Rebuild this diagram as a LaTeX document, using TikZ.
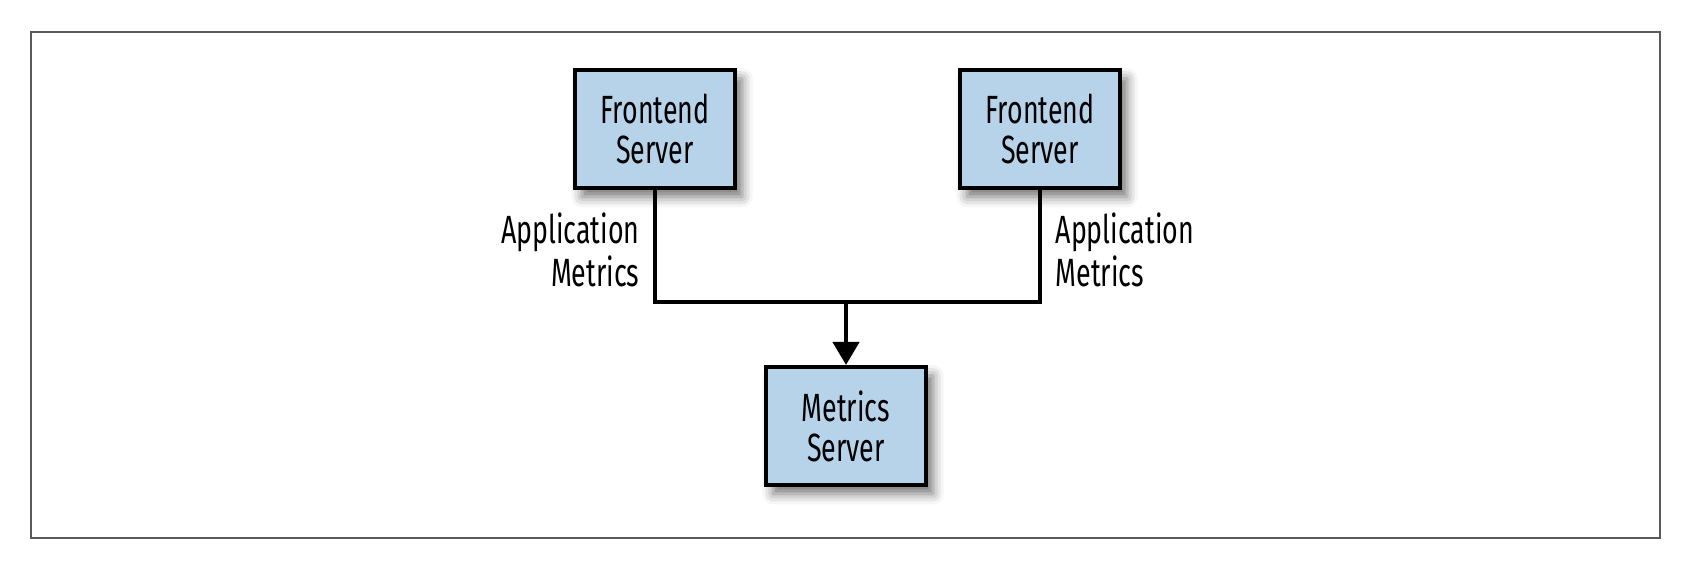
\documentclass[tikz,border=0pt]{standalone}
\usepackage{fontspec}
\setmainfont[FakeStretch=0.68]{Fira Sans}
\usepackage{xcolor}
\usepackage{tikz}
\usetikzlibrary{arrows.meta,positioning,shadows.blur,calc}
\definecolor{boxblue}{HTML}{B7D3EA}
\definecolor{framegray}{HTML}{5A5A5A}
\tikzset{
  server/.style={draw=black, line width=1.2pt, fill=boxblue, align=center, minimum width=1.6cm, minimum height=1.18cm, inner sep=2pt,
    font=\fontsize{11.2}{11.4}\selectfont,
    blur shadow={shadow xshift=2pt, shadow yshift=-2.5pt, shadow blur radius=3pt, shadow opacity=55}},
  link/.style={draw=black, line width=0.9pt},
  arrow/.style={-{Triangle[length=6.5pt, width=7.5pt]}, line width=0.9pt, draw=black},
  tag/.style={align=center, inner sep=4pt, yshift=-1pt, font=\fontsize{11.2}{11}\selectfont}
}

\begin{document}
\begin{tikzpicture}[x=0.01cm, y=-0.01cm]
  \draw[framegray, line width=0.45pt] (31,32) rectangle (1660,538);
  \useasboundingbox (0,0) rectangle (1692,562);

  \node[server] (front1) at (655,129) {Frontend\\Server};
  \node[server] (front2) at (1040,129) {Frontend\\Server};
  \node[server] (metrics) at (846,426) {Metrics\\Server};
  \coordinate (join) at (846,302);

  \draw[link] (front1) |- node[pos=0.25, left, tag, align=right] {Application\\Metrics} (join)
    -| node[pos=0.75, right, tag, align=left] {Application\\Metrics} (front2);
  \draw[arrow] (join) -- (metrics);
\end{tikzpicture}
\end{document}
